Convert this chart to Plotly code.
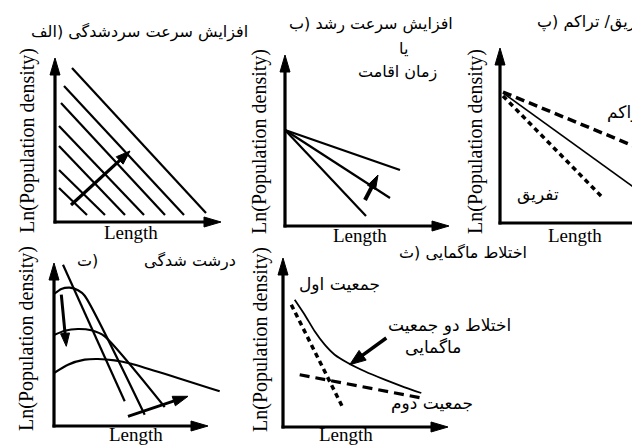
import math
import plotly.graph_objects as go

W, H = 640, 445

# ---------------- data (panel units: 1 unit ~ distance along each axis) ----------------
# Panel A (الف): parallel lines shifting with cooling rate
a_x0 = [17, 9, 6, 4, 4, 4, 4]
a_y0 = [154, 136, 119, 96, 76, 52, 34]
a_x1 = [151, 129, 110, 89, 70, 50, 32]
a_y1 = [9, 7, 7, 7, 7, 7, 7]
a_arrow = [16, 17, 75, 71]
a_axis = [166, 164]

# Panel B (ب): fan of lines from a common intercept
b_start = [0, 96]
b_end_x = [115, 105, 81]
b_end_y = [56, 28, 10]
b_arrow = [80, 26, 93, 51]
b_axis = [164, 171]

# Panel C (پ): accumulation / fractionation
c_solid_x = [3, 175]
c_solid_y = [130, 6]
c_accum_x = [3, 175]
c_accum_y = [131, 60]
c_fract_x = [3, 103]
c_fract_y = [127, 25]
c_axis = [160, 175]

# Panel D (ت): coarsening
d_s0_x = [9, 70.7]
d_s0_y = [161.3, 24.7]
d_c1_x = [0, 7.3, 15.7, 24, 30.7, 90.7]
d_c1_y = [132, 137, 138.3, 135.7, 130.3, 11.3]
d_c2_x = [0, 10.7, 24, 37.3, 50.7, 110.7]
d_c2_y = [91, 95.3, 97, 95.7, 89.7, 19]
d_c3_x = [0, 14, 30.7, 44, 60.7, 77.3, 165.7]
d_c3_y = [53, 61.3, 66.3, 67, 65.7, 62.3, 34.7]
d_arrow_down = [7.3, 131.3, 12.3, 79.7]
d_arrow_right = [74, 9.7, 134, 29.7]
d_axis = [154, 163]

# Panel E (ث): magma mixing
e_mix_x = [11.7, 21.7, 31.7, 41.7, 51.7, 65, 81.7, 101.7, 121.7, 138.3]
e_mix_y = [127.3, 112.3, 95.7, 82.3, 72.3, 64, 55.7, 47.3, 39.7, 34]
e_pop1_x = [8.3, 60]
e_pop1_y = [122.3, 19]
e_pop2_x = [16.7, 138.3]
e_pop2_y = [52.3, 29]
e_arrow = [103.3, 89, 66.7, 62.3]
e_axis = [165, 169]

# ---------------- layout of panels (pixel boxes) ----------------
# name: (box left, right, top, bottom, origin x, origin y)
panels = {
    "A": (30, 222, 38, 224, 47, 214),
    "B": (262, 447, 35, 226, 277, 218),
    "C": (480, 640, 30, 224, 492, 215),
    "D": (30, 220, 243, 430, 46, 418),
    "E": (262, 447, 240, 430, 275, 419),
}

fig = go.Figure()
axis_ids = {}
for i, (name, (l, r, t, b, ox, oy)) in enumerate(panels.items()):
    idx = "" if i == 0 else str(i + 1)
    axis_ids[name] = ("x" + idx, "y" + idx)
    common = dict(visible=False, fixedrange=True, showgrid=False, zeroline=False)
    fig.update_layout(**{
        "xaxis" + idx: dict(domain=[l / W, r / W], range=[l - ox, r - ox], anchor="y" + idx, **common),
        "yaxis" + idx: dict(domain=[(H - b) / H, (H - t) / H], range=[oy - b, oy - t], anchor="x" + idx, **common),
    })


def line(p, xs, ys, width=2.0, dash="solid"):
    xa, ya = axis_ids[p]
    fig.add_trace(go.Scatter(x=xs, y=ys, mode="lines", xaxis=xa, yaxis=ya,
                             line=dict(color="black", width=width, dash=dash, shape="spline", smoothing=0.6),
                             hoverinfo="skip", showlegend=False))


def arrow(p, x0, y0, x1, y1, width=3.0, hl=16, hw=5.5):
    xa, ya = axis_ids[p]
    dx, dy = x1 - x0, y1 - y0
    n = math.hypot(dx, dy)
    ux, uy = dx / n, dy / n
    bx, by = x1 - hl * ux, y1 - hl * uy
    fig.add_trace(go.Scatter(x=[x0, bx + 2 * ux], y=[y0, by + 2 * uy], mode="lines", xaxis=xa, yaxis=ya,
                             line=dict(color="black", width=width), hoverinfo="skip", showlegend=False))
    fig.add_trace(go.Scatter(x=[x1, bx - hw * uy, bx + hw * uy, x1], y=[y1, by + hw * ux, by - hw * ux, y1],
                             mode="lines", fill="toself", fillcolor="black", xaxis=xa, yaxis=ya,
                             line=dict(color="black", width=1), hoverinfo="skip", showlegend=False))


def axes(p, ax_len, arrow_x=True):
    xl, yl = ax_len
    arrow(p, 0, -1.5, 0, yl, width=3.2, hl=17, hw=5)
    if arrow_x:
        arrow(p, -1.5, 0, xl, 0, width=3.2, hl=17, hw=5)
    else:
        line(p, [-1.5, xl], [0, 0], width=3.2)


# Panel A
axes("A", a_axis)
for x0, y0, x1, y1 in zip(a_x0, a_y0, a_x1, a_y1):
    line("A", [x0, x1], [y0, y1], width=2.2)
arrow("A", *a_arrow, width=3.2, hl=14, hw=5)

# Panel B
axes("B", b_axis)
for xe, ye in zip(b_end_x, b_end_y):
    line("B", [b_start[0], xe], [b_start[1], ye], width=2.2)
arrow("B", *b_arrow, width=4, hl=14, hw=4.5)

# Panel C
axes("C", c_axis, arrow_x=False)
line("C", c_solid_x, c_solid_y, width=1.6)
line("C", c_accum_x, c_accum_y, width=3.5, dash="9px,5px")
line("C", c_fract_x, c_fract_y, width=3.5, dash="5px,4px")

# Panel D
axes("D", d_axis)
line("D", d_s0_x, d_s0_y, width=2.2)
line("D", d_c1_x, d_c1_y, width=2.2)
line("D", d_c2_x, d_c2_y, width=2.2)
line("D", d_c3_x, d_c3_y, width=2.2)
arrow("D", *d_arrow_down, width=3, hl=13, hw=4.5)
arrow("D", *d_arrow_right, width=3, hl=15, hw=5)

# Panel E
axes("E", e_axis)
line("E", e_mix_x, e_mix_y, width=1.8)
line("E", e_pop1_x, e_pop1_y, width=3.5, dash="5px,4px")
line("E", e_pop2_x, e_pop2_y, width=3.2, dash="10px,6px")
arrow("E", *e_arrow, width=3.5, hl=16, hw=6)

# ---------------- texts ----------------
SERIF = "Liberation Serif"
ARAB = "DejaVu Sans"
ann = []


def text(s, x, y, size=17, font=ARAB, xanchor="center", angle=0):
    ann.append(dict(text=s, x=x / W, y=1 - y / H, xref="paper", yref="paper", showarrow=False,
                    xanchor=xanchor, yanchor="middle", textangle=angle,
                    font=dict(family=font, size=size, color="black")))


ylab = "Ln(Population density)"
for cx, cy in [(19, 133), (251, 134), (467, 134), (18, 331), (252, 332)]:
    text(ylab, cx, cy, size=20, font=SERIF, angle=-90)
for cx, cy in [(123, 224), (352, 227), (567, 227), (128, 426), (338, 426)]:
    text("Length", cx, cy, size=19, font=SERIF)

NB = "\u00a0"
text("افزایش سرعت سردشدگی (الف", 242, 24, size=16, xanchor="right")
text("افزایش سرعت رشد (ب", 447, 16, size=16, xanchor="right")
text("یا", 395, 40, size=16)
text("زمان اقامت", 389, 64, size=16)
text("تفریق/ تراکم (پ", 527, 14, size=16, xanchor="left")
text("تراکم", 597, 104, size=17, xanchor="left")
text("تفریق", 530, 186, size=17)
text("درشت شدگی" + NB * 9 + "(ت", 230, 253, size=16, xanchor="right")
text("اختلاط ماگمایی (ث", 455, 244, size=16)
text("جمعیت اول", 331, 276, size=17)
text("اختلاط دو جمعیت", 441, 317, size=17)
text("ماگمایی", 425, 339, size=17)
text("جمعیت دوم", 424, 395, size=17)

fig.update_layout(width=W, height=H, margin=dict(l=0, r=0, t=0, b=0),
                  paper_bgcolor="white", plot_bgcolor="white", annotations=ann, showlegend=False)
fig.write_html("out.html")
